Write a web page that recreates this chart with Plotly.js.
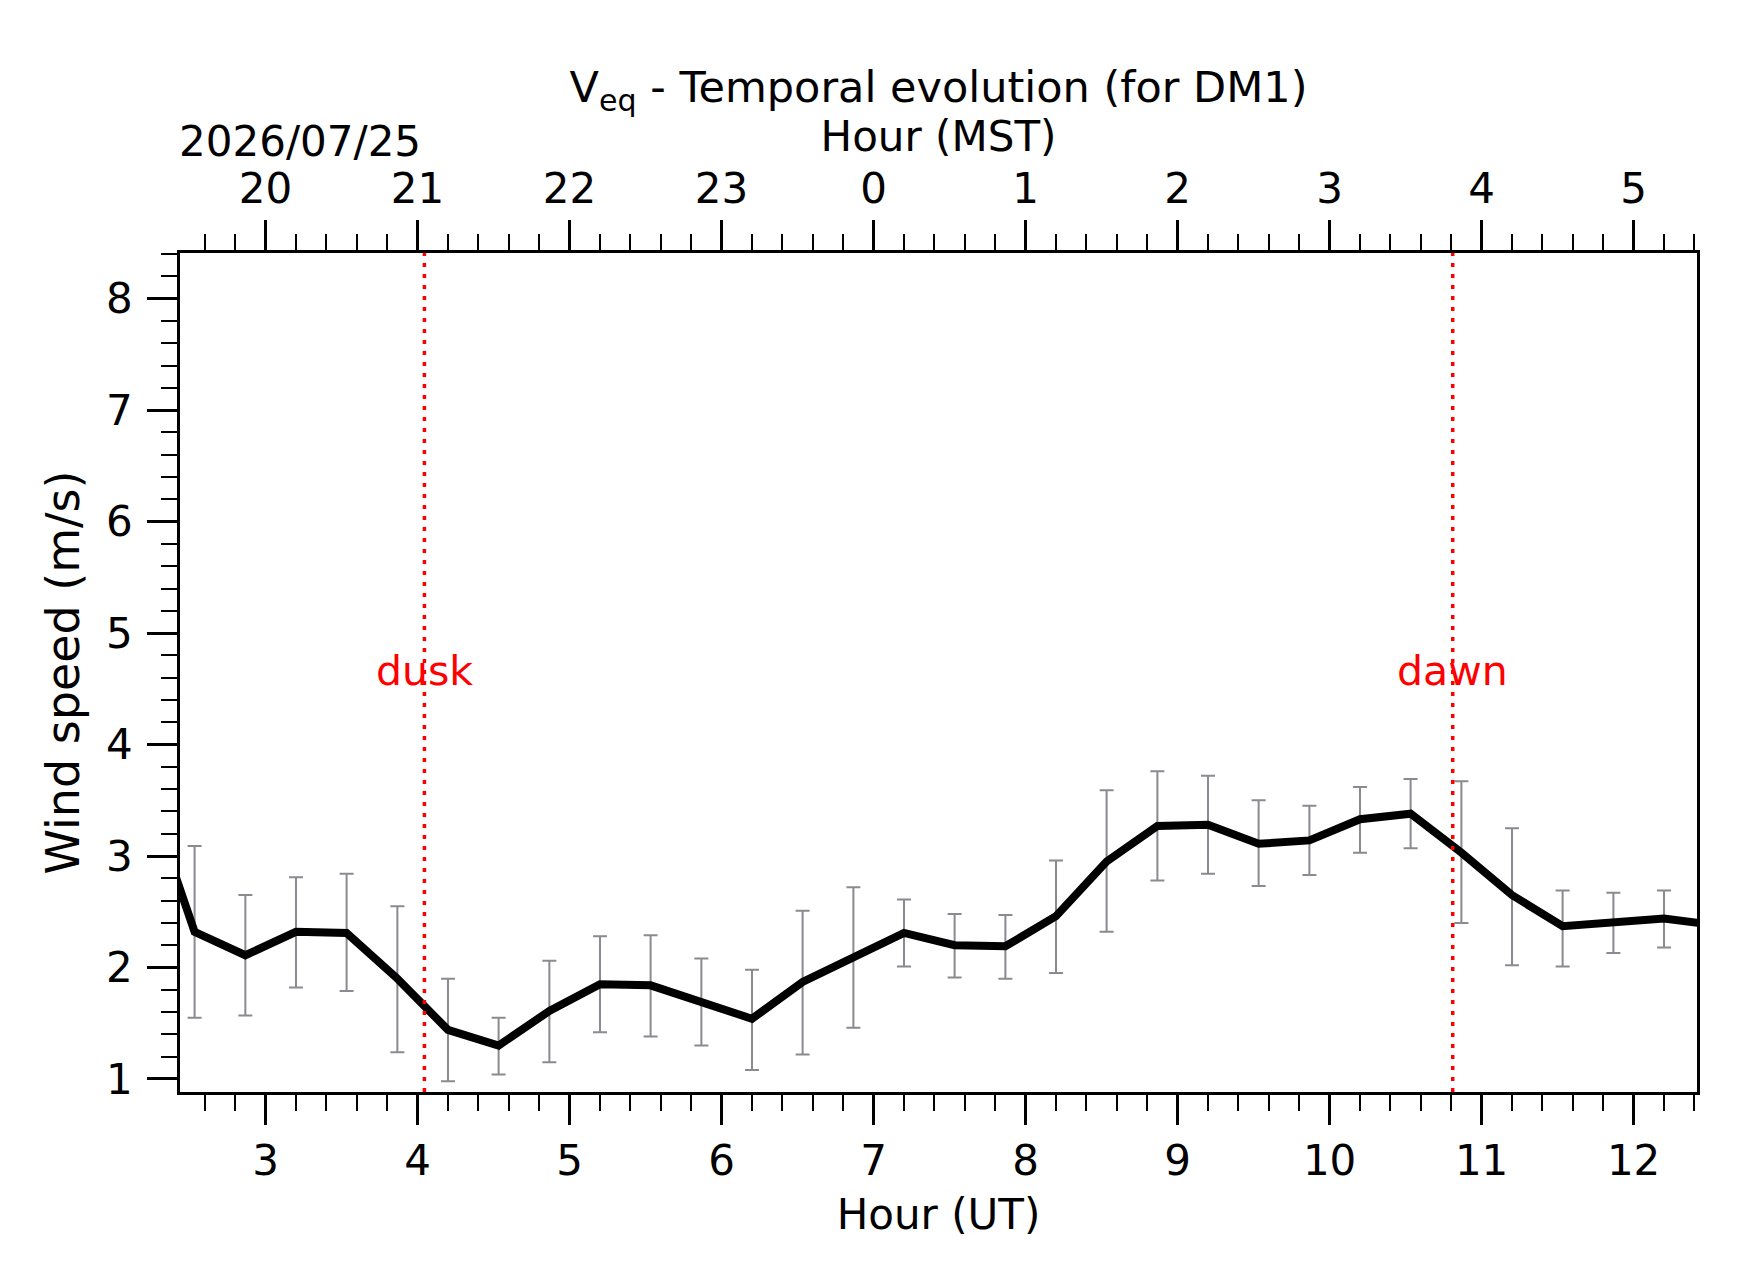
<!DOCTYPE html>
<html>
<head>
<meta charset="utf-8">
<script src="https://cdn.plot.ly/plotly-3.0.1.min.js"></script>
<style>
  html, body { margin: 0; padding: 0; background: #fff; }
  #myDiv { width: 1742px; height: 1282px; }
</style>
</head>
<body>
<div id="myDiv"></div>
<script>
// hour (UT), 20 min bins; first and last bins fall just outside the axis range
var hourUT = [2.2, 2.533, 2.867, 3.2, 3.533, 3.867, 4.2, 4.533, 4.867, 5.2, 5.533, 5.867,
              6.2, 6.533, 6.867, 7.2, 7.533, 7.867, 8.2, 8.533, 8.867, 9.2, 9.533, 9.867,
              10.2, 10.533, 10.867, 11.2, 11.533, 11.867, 12.2, 12.533];
var speed   = [3.65, 2.32, 2.11, 2.32, 2.31, 1.90, 1.44, 1.30, 1.61, 1.85, 1.84, 1.69,
               1.54, 1.87, 2.10, 2.31, 2.20, 2.19, 2.46, 2.95, 3.27, 3.28, 3.11, 3.14,
               3.33, 3.38, 3.03, 2.65, 2.37, 2.40, 2.44, 2.38];
var speedHi = [4.30, 3.09, 2.65, 2.81, 2.84, 2.55, 1.90, 1.55, 2.06, 2.28, 2.29, 2.08,
               1.98, 2.51, 2.72, 2.61, 2.48, 2.47, 2.96, 3.59, 3.76, 3.72, 3.50, 3.45,
               3.62, 3.69, 3.67, 3.25, 2.69, 2.67, 2.69, 2.65];
var speedLo = [3.00, 1.55, 1.57, 1.82, 1.79, 1.24, 0.98, 1.04, 1.15, 1.42, 1.38, 1.30,
               1.08, 1.22, 1.46, 2.01, 1.91, 1.90, 1.95, 2.32, 2.78, 2.84, 2.73, 2.83,
               3.03, 3.07, 2.40, 2.02, 2.01, 2.13, 2.18, 2.10];

var utTicks  = [3, 4, 5, 6, 7, 8, 9, 10, 11, 12];
var mstTicks = ['20', '21', '22', '23', '0', '1', '2', '3', '4', '5'];

var duskUT = 4.045;
var dawnUT = 10.81;
var xRange = [2.437, 12.417];
var yRange = [0.883, 8.41];

var errPlus  = speedHi.map(function (v, i) { return v - speed[i]; });
var errMinus = speedLo.map(function (v, i) { return speed[i] - v; });

var font = 'DejaVu Sans, Verdana, sans-serif';

var data = [{
    x: hourUT,
    y: speed,
    type: 'scatter',
    mode: 'lines',
    line: {color: 'black', width: 8},
    error_y: {
      type: 'data',
      symmetric: false,
      array: errPlus,
      arrayminus: errMinus,
      color: '#8a8a90',
      thickness: 2,
      width: 7
    },
    hoverinfo: 'x+y',
    showlegend: false
  }, {
    // carries the MST axis along the top
    x: hourUT,
    y: speed,
    xaxis: 'x2',
    type: 'scatter',
    mode: 'lines',
    line: {width: 0},
    hoverinfo: 'skip',
    showlegend: false
  }];

var axisCommon = {
  showgrid: false,
  zeroline: false,
  showline: true,
  linecolor: 'black',
  linewidth: 2.5,
  ticks: 'outside',
  ticklen: 30,
  tickwidth: 2.5,
  tickcolor: 'black',
  tickfont: {family: font, size: 42, color: 'black'}
};

var minorTicks = {tickmode: 'linear', tick0: 0, dtick: 0.2, ticks: 'outside', ticklen: 16,
                  tickwidth: 2, tickcolor: 'black'};

var layout = {
  width: 1742,
  height: 1282,
  paper_bgcolor: 'white',
  plot_bgcolor: 'white',
  margin: {l: 180, r: 45, t: 253, b: 190, pad: 0},
  font: {family: font, color: 'black'},
  title: {
    text: 'V<sub>eq</sub> - Temporal evolution (for DM1)',
    font: {family: font, size: 43, color: 'black'},
    xref: 'paper',
    x: 0.5,
    xanchor: 'center',
    yref: 'container',
    y: 1 - 87 / 1282,
    yanchor: 'middle'
  },
  xaxis: Object.assign({}, axisCommon, {
    range: xRange,
    tickmode: 'array',
    tickvals: utTicks,
    mirror: true,
    minor: minorTicks,
    title: {text: 'Hour (UT)', font: {family: font, size: 42, color: 'black'}, standoff: 16}
  }),
  xaxis2: Object.assign({}, axisCommon, {
    range: xRange,
    overlaying: 'x',
    side: 'top',
    tickmode: 'array',
    tickvals: utTicks,
    ticktext: mstTicks,
    minor: minorTicks,
    title: {text: 'Hour (MST)', font: {family: font, size: 42, color: 'black'}, standoff: 0}
  }),
  yaxis: Object.assign({}, axisCommon, {
    range: yRange,
    tickmode: 'linear',
    tick0: 0,
    dtick: 1,
    mirror: true,
    minor: minorTicks,
    ticklabelstandoff: 6,
    title: {text: 'Wind speed (m/s)', font: {family: font, size: 46, color: 'black'}, standoff: 13}
  }),
  shapes: [duskUT, dawnUT].map(function (t) {
    return {
      type: 'line', xref: 'x', yref: 'paper', x0: t, x1: t, y0: 0, y1: 1,
      line: {color: 'red', width: 3.5, dash: '4px,7px'}
    };
  }),
  annotations: [
    {text: 'dusk', x: duskUT, y: 4.66, xref: 'x', yref: 'y', showarrow: false,
     xanchor: 'center', yanchor: 'middle', font: {family: font, size: 41, color: 'red'}},
    {text: 'dawn', x: dawnUT, y: 4.66, xref: 'x', yref: 'y', showarrow: false,
     xanchor: 'center', yanchor: 'middle', font: {family: font, size: 41, color: 'red'}},
    {text: '2026/07/25', xref: 'paper', yref: 'paper', x: (300 - 180) / 1517,
     y: (1092 - 141) / 839, showarrow: false, xanchor: 'center', yanchor: 'middle',
     font: {family: font, size: 42, color: 'black'}}
  ]
};

Plotly.newPlot('myDiv', data, layout, {displayModeBar: false});
</script>
</body>
</html>
